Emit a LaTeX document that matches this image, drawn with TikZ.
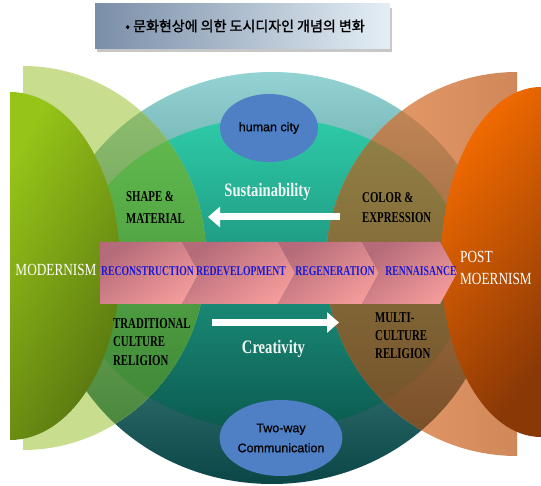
\documentclass[tikz,border=0pt]{standalone}
\usepackage{fontspec}
\setmainfont{Liberation Serif}
\newfontfamily\capsfont[FakeStretch=0.72]{Liberation Serif}
\newfontfamily\titlingfont[FakeStretch=0.78]{Liberation Serif}
\newfontfamily\wordfont[FakeStretch=0.77]{Liberation Serif}
\newfontfamily\labelsans[FakeBold=0.6]{Liberation Sans}
\newfontfamily\krfont[FakeBold=1.6]{Noto Sans CJK KR}
\usetikzlibrary{arrows.meta,shapes.geometric}

% palette
\definecolor{titleL}{HTML}{7A8EA8}
\definecolor{titleR}{HTML}{E4EEF5}
\definecolor{ringTop}{HTML}{93D3D3}
\definecolor{ringMid}{HTML}{4A9C9C}
\definecolor{ringBot}{HTML}{0A4646}
\definecolor{innerTop}{HTML}{2ECBA9}
\definecolor{innerMid}{HTML}{17987E}
\definecolor{innerBot}{HTML}{0B5A50}
\definecolor{lgreen}{HTML}{C8DD8E}
\definecolor{lgRingTop}{HTML}{95C274}
\definecolor{lgRingBot}{HTML}{3F7F35}
\definecolor{lgInTop}{HTML}{62BC4E}
\definecolor{lgInBot}{HTML}{3E8537}
\definecolor{dgA}{HTML}{96C418}
\definecolor{dgB}{HTML}{587510}
\definecolor{loL}{HTML}{EEA070}
\definecolor{loR}{HTML}{D08858}
\definecolor{loRingTop}{HTML}{C88B5B}
\definecolor{loRingBot}{HTML}{6E4822}
\definecolor{loInTop}{HTML}{928346}
\definecolor{loInBot}{HTML}{74502A}
\definecolor{doA}{HTML}{F56C00}
\definecolor{doM}{HTML}{D25A04}
\definecolor{doB}{HTML}{8A3806}
\definecolor{chevPink}{HTML}{F39B9A}
\definecolor{chevDark}{HTML}{B56B7A}
\definecolor{blobBlue}{HTML}{4F7FC4}
\definecolor{stageBlue}{RGB}{25,25,215}
\definecolor{softWhite}{HTML}{F2F6F2}

\begin{document}
\begin{tikzpicture}[x=1pt,y=-1pt,
  chev/.style={top color=chevDark, middle color=chevPink!92!chevDark, bottom color=chevPink, shading angle=35},
  stagelabel/.style={text=stageBlue, inner sep=0pt, font=\capsfont\bfseries\fontsize{13.5}{15}\selectfont},
  itemlabel/.style={text=black, inner sep=0pt, anchor=west, font=\capsfont\bfseries\fontsize{15}{17}\selectfont},
  eralabel/.style={text=white, inner sep=0pt, font=\titlingfont\fontsize{17}{19}\selectfont},
  theme/.style={text=softWhite, inner sep=0pt, anchor=base, font=\wordfont\bfseries\fontsize{19}{21}\selectfont},
  bigarrow/.style={white, line width=7pt, -{Triangle[length=12pt,width=20pt]}},
  blob/.style={ellipse, fill=blobBlue, inner sep=0pt, align=center, font=\labelsans\fontsize{12.5}{20}\selectfont}]
\useasboundingbox (0,0) rectangle (541,486);
\fill[white] (0,0) rectangle (541,486);

% heading banner
\fill[black!22] (97,8) rectangle (392,52);
\shade[left color=titleL, right color=titleR] (95,4) rectangle (390,49);
\node[font=\krfont\fontsize{14}{16}\selectfont] (heading) at (245,26) {• 문화현상에 의한 도시디자인 개념의 변화};

% central rings
\shade[top color=ringTop, middle color=ringMid, bottom color=ringBot]
  (272,278) ellipse [x radius=222, y radius=206];
\shade[top color=innerTop, middle color=innerMid, bottom color=innerBot]
  (270,274) ellipse [x radius=197, y radius=156];

% pale green lobe and its overlaps
\begin{scope}
  \clip (23,0) rectangle (300,486);
  \clip (23,258) ellipse [x radius=183, y radius=192];
  \fill[lgreen] (0,0) rectangle (300,486);
  \shade[top color=lgRingTop, bottom color=lgRingBot] (272,278) ellipse [x radius=222, y radius=206];
  \shade[top color=lgInTop, bottom color=lgInBot] (270,274) ellipse [x radius=197, y radius=156];
\end{scope}

% pale orange lobe and its overlaps
\begin{scope}
  \clip (250,0) rectangle (517,486);
  \clip (517,264) ellipse [x radius=191, y radius=192];
  \shade[left color=loL, right color=loR] (326,72) rectangle (517,456);
  \shade[top color=loRingTop, bottom color=loRingBot] (272,278) ellipse [x radius=222, y radius=206];
  \shade[top color=loInTop, bottom color=loInBot] (270,274) ellipse [x radius=197, y radius=156];
\end{scope}

% front green lobe
\begin{scope}
  \clip (10,0) rectangle (200,486);
  \clip (10,266) ellipse [x radius=110, y radius=174];
  \shade[top color=dgA, bottom color=dgB, shading angle=60] (10,92) rectangle (120,440);
\end{scope}

% front orange lobe
\begin{scope}
  \clip (541,262) ellipse [x radius=100, y radius=175];
  \shade[top color=doA, middle color=doM, bottom color=doB, shading angle=50] (441,87) rectangle (541,437);
\end{scope}

% chevron band
\shade[chev] (100,242) -- (182,242) -- (199,273) -- (182,304) -- (100,304) -- cycle;
\shade[chev] (182,242) -- (278,242) -- (295,273) -- (278,304) -- (182,304) -- (199,273) -- cycle;
\shade[chev] (278,242) -- (362,242) -- (379,273) -- (362,304) -- (278,304) -- (295,273) -- cycle;
\shade[chev] (362,242) -- (440,242) -- (457,273) -- (440,304) -- (362,304) -- (379,273) -- cycle;

\node[stagelabel] (recon) at (147.5,271) {RECONSTRUCTION};
\node[stagelabel] (redev) at (241,271) {REDEVELOPMENT};
\node[stagelabel] (regen) at (335,271) {REGENERATION};
\node[stagelabel] (renn) at (421,271) {RENNAISANCE};

% era labels
\node[eralabel] (modern) at (56,270) {MODERNISM};
\node[eralabel, anchor=west] (post1) at (460,257) {POST};
\node[eralabel, anchor=west] (post2) at (460,279) {MOERNISM};

% theme ellipses
\node[blob, minimum width=98pt, minimum height=68pt] (human) at (269,128) {human city};
\node[blob, minimum width=108pt, minimum height=76pt] (twoway) at (281,438) {Two-way\\Communication};

% themes and arrows
\node[theme] (sust) at (267.5,197) {Sustainability};
\coordinate (sustFrom) at (340,217);
\coordinate (sustTo) at (208,217);
\draw[bigarrow] (sustFrom) -- (sustTo);

\node[theme] (crea) at (273.5,353) {Creativity};
\coordinate (creaFrom) at (212,322.5);
\coordinate (creaTo) at (339,322.5);
\draw[bigarrow] (creaFrom) -- (creaTo);

% attribute labels
\node[itemlabel] (shapeA) at (126,197) {SHAPE \&};
\node[itemlabel] (shapeB) at (126,219) {MATERIAL};
\node[itemlabel] (colorA) at (362,198) {COLOR \&};
\node[itemlabel] (colorB) at (362,218) {EXPRESSION};
\node[itemlabel] (tradA) at (113,324) {TRADITIONAL};
\node[itemlabel] (tradB) at (113,342) {CULTURE};
\node[itemlabel] (tradC) at (113,361) {RELIGION};
\node[itemlabel] (multiA) at (375,318) {MULTI-};
\node[itemlabel] (multiB) at (375,336) {CULTURE};
\node[itemlabel] (multiC) at (375,354) {RELIGION};
\end{tikzpicture}
\end{document}
